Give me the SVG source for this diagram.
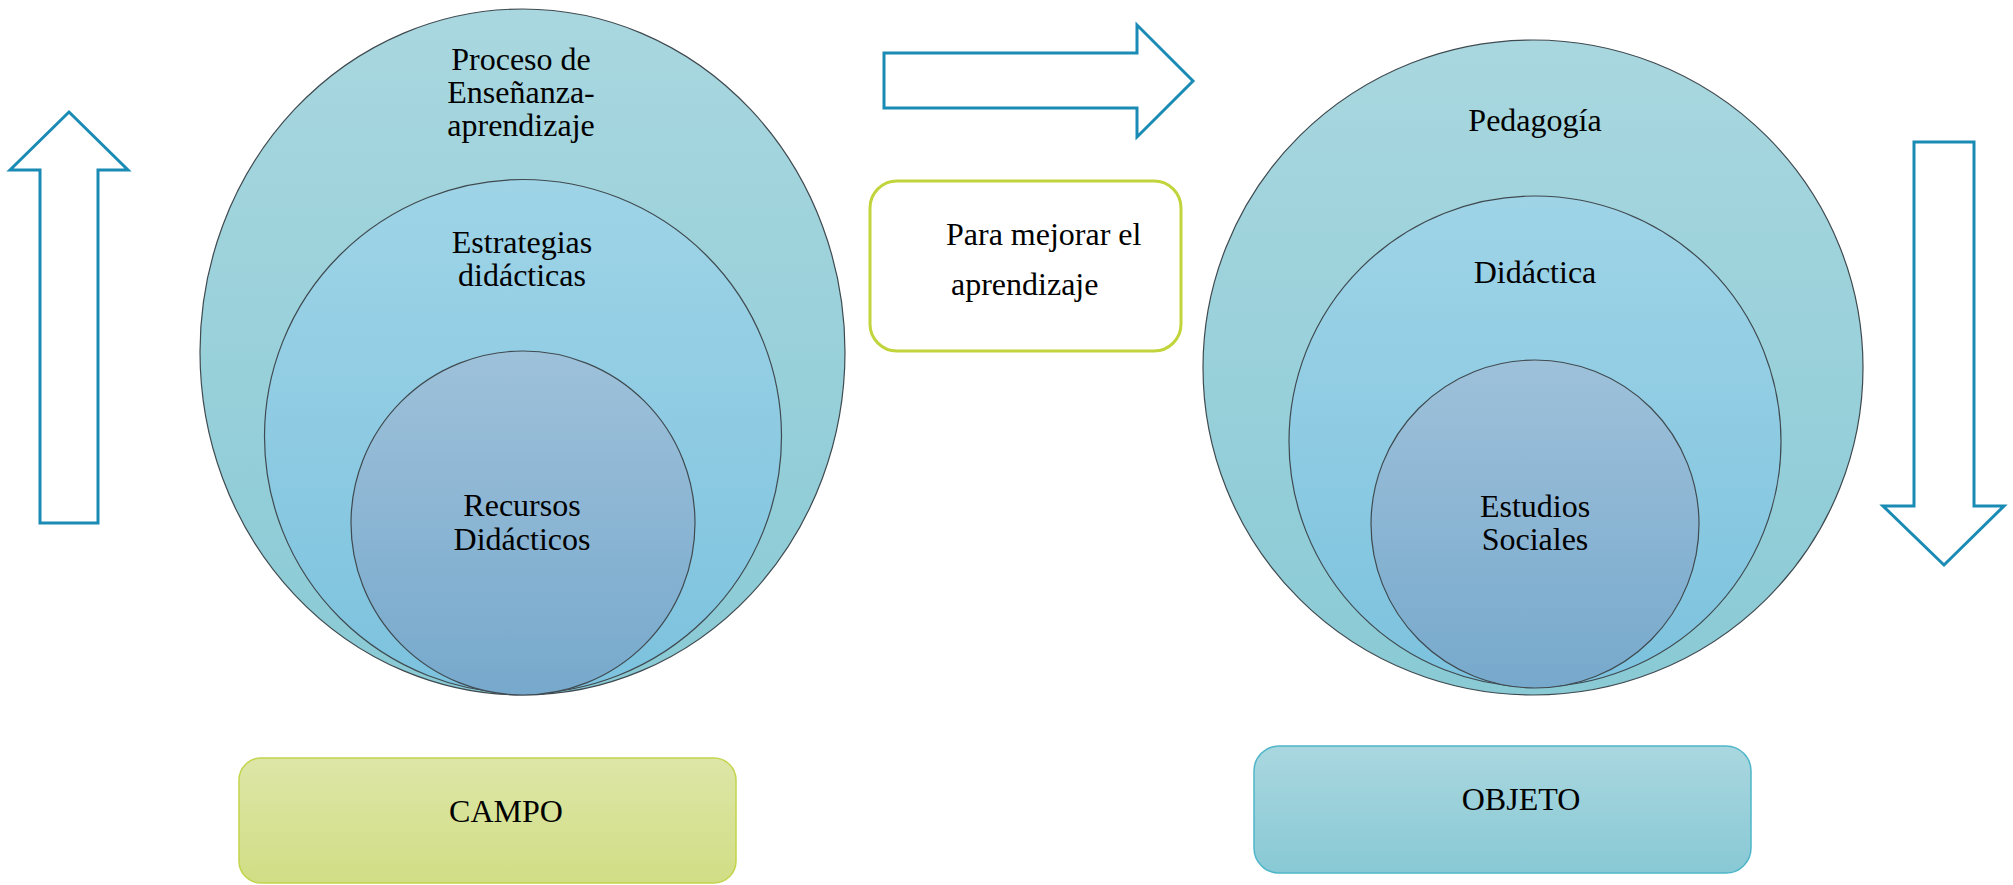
<svg xmlns="http://www.w3.org/2000/svg" width="2013" height="885" viewBox="0 0 2013 885">
<style>
  .t { font-family: "Liberation Serif", "Times New Roman", Times, serif; font-size: 32px; fill: #000; text-anchor: middle; }
  .tl { font-family: "Liberation Serif", "Times New Roman", Times, serif; font-size: 32px; fill: #000; }
  .c { stroke: #3f4a50; stroke-width: 1.2; }
  .arrow { fill: #fff; stroke: #1a8bb4; stroke-width: 3; stroke-linejoin: miter; }
</style>
<defs>
  <linearGradient id="gOuter" x1="0" y1="0" x2="0" y2="1">
    <stop offset="0" stop-color="#a9d7df"/>
    <stop offset="1" stop-color="#89cad5"/>
  </linearGradient>
  <linearGradient id="gMid" x1="0" y1="0" x2="0" y2="1">
    <stop offset="0" stop-color="#9fd4e7"/>
    <stop offset="1" stop-color="#7cc2de"/>
  </linearGradient>
  <linearGradient id="gIn" x1="0" y1="0" x2="0" y2="1">
    <stop offset="0" stop-color="#9ec1da"/>
    <stop offset="1" stop-color="#77a9cc"/>
  </linearGradient>
  <linearGradient id="gCampo" x1="0" y1="0" x2="0" y2="1">
    <stop offset="0" stop-color="#dde6a7"/>
    <stop offset="1" stop-color="#d1de85"/>
  </linearGradient>
  <linearGradient id="gObj" x1="0" y1="0" x2="0" y2="1">
    <stop offset="0" stop-color="#aad7df"/>
    <stop offset="1" stop-color="#88c9d5"/>
  </linearGradient>
</defs>

<g id="arrow-up">
  <polygon class="arrow" points="69,112 128,170 98,170 98,523 40,523 40,170 10,170"/>
</g>
<g id="arrow-right">
  <polygon class="arrow" points="884,53 1137,53 1137,25 1193,81 1137,137 1137,108 884,108"/>
</g>
<g id="arrow-down">
  <polygon class="arrow" points="1914,142 1974,142 1974,506 2004,506 1944,565 1883,506 1914,506"/>
</g>

<g id="left-outer">
  <ellipse class="c" cx="522.5" cy="352" rx="322.5" ry="343" fill="url(#gOuter)"/>
  <text class="t" x="521" y="70">Proceso de</text>
  <text class="t" x="521" y="103">Enseñanza-</text>
  <text class="t" x="521" y="136">aprendizaje</text>
</g>
<g id="left-middle">
  <ellipse class="c" cx="523" cy="436.5" rx="258.5" ry="257" fill="url(#gMid)"/>
  <text class="t" x="522" y="253">Estrategias</text>
  <text class="t" x="522" y="286">didácticas</text>
</g>
<g id="left-inner">
  <ellipse class="c" cx="523" cy="523" rx="172" ry="172" fill="url(#gIn)"/>
  <text class="t" x="522" y="516">Recursos</text>
  <text class="t" x="522" y="550">Didácticos</text>
</g>

<g id="right-outer">
  <ellipse class="c" cx="1533" cy="367.5" rx="330" ry="327.5" fill="url(#gOuter)"/>
  <text class="t" x="1535" y="131">Pedagogía</text>
</g>
<g id="right-middle">
  <ellipse class="c" cx="1535" cy="441.5" rx="246" ry="245.5" fill="url(#gMid)"/>
  <text class="t" x="1535" y="283">Didáctica</text>
</g>
<g id="right-inner">
  <ellipse class="c" cx="1535" cy="524" rx="164" ry="164" fill="url(#gIn)"/>
  <text class="t" x="1535" y="517">Estudios</text>
  <text class="t" x="1535" y="550">Sociales</text>
</g>

<g id="box-mejorar">
  <rect x="870" y="181" width="311" height="170" rx="27" ry="27" fill="#fff" stroke="#c2d43c" stroke-width="3"/>
  <text class="tl" x="946" y="245">Para mejorar el</text>
  <text class="tl" x="951" y="295">aprendizaje</text>
</g>

<g id="box-campo">
  <rect x="239" y="758" width="497" height="125" rx="22" ry="22" fill="url(#gCampo)" stroke="#c4d44c" stroke-width="1.5"/>
  <text class="t" x="506" y="822">CAMPO</text>
</g>
<g id="box-objeto">
  <rect x="1254" y="746" width="497" height="127" rx="25" ry="25" fill="url(#gObj)" stroke="#4fb6c9" stroke-width="1.5"/>
  <text class="t" x="1521" y="810">OBJETO</text>
</g>
<g id="connectors"></g>
</svg>
